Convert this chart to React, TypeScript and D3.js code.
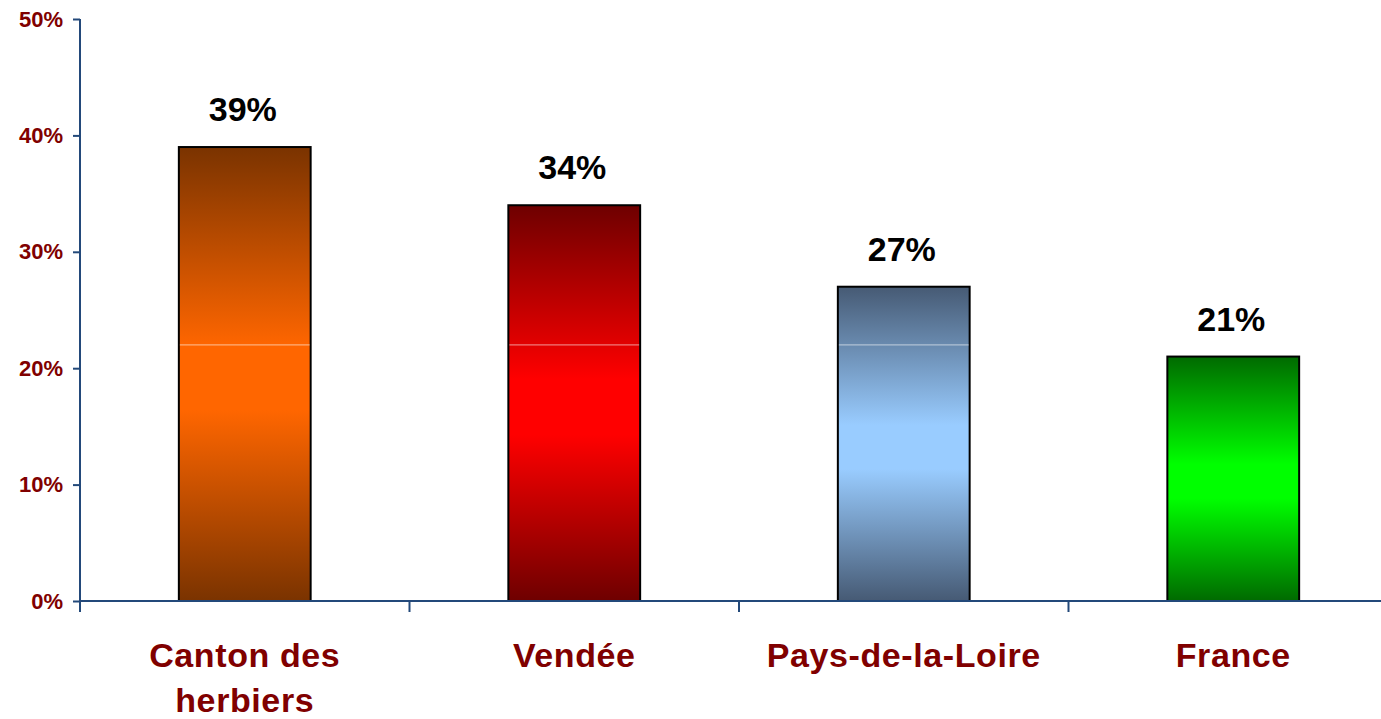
import { useEffect, useRef } from 'react'
import * as d3 from 'd3'

const categories = ['Canton des herbiers', 'Vendée', 'Pays-de-la-Loire', 'France']
const categoryLines = [['Canton des', 'herbiers'], ['Vendée'], ['Pays-de-la-Loire'], ['France']]
const values = [0.39, 0.34, 0.27, 0.21]
const yTicks = [0, 0.1, 0.2, 0.3, 0.4, 0.5]
// dark end / bright middle of each bar's gradient
const darkColors = ['#7a3300', '#6e0000', '#465a74', '#006a00']
const brightColors = ['#ff6600', '#ff0000', '#99ccff', '#00ff00']
// faint light streak that crosses every bar in the original
const streakValue = 0.22

const width = 1381
const height = 719
const margin = { top: 19, right: -17, bottom: 118, left: 80 }

export default function App() {
  const svgRef = useRef<SVGSVGElement>(null)

  useEffect(() => {
    if (!svgRef.current) return
    const svg = d3.select(svgRef.current)
    svg.selectAll('*').remove()

    const x = d3.scaleBand<string>()
      .domain(categories)
      .range([margin.left, width - margin.right])
      .paddingInner(0.6)
      .paddingOuter(0.3)

    const y = d3.scaleLinear()
      .domain([0, 0.5])
      .range([height - margin.bottom, margin.top])

    const axisColor = '#23497a'
    const labelColor = '#800000'
    const font = '"Liberation Sans", Arial, sans-serif'

    const defs = svg.append('defs')
    categories.forEach((c, i) => {
      const grad = defs.append('linearGradient')
        .attr('id', `grad${i}`)
        .attr('x1', 0).attr('y1', 0).attr('x2', 0).attr('y2', 1)
      const stops: [number, string][] = [
        [0, darkColors[i]],
        [0.44, brightColors[i]],
        [0.58, brightColors[i]],
        [1, darkColors[i]],
      ]
      stops.forEach(([o, col]) => {
        grad.append('stop').attr('offset', o).attr('stop-color', col)
      })
    })

    // bars
    const bars = svg.append('g')
    bars.selectAll('rect')
      .data(categories)
      .join('rect')
      .attr('x', d => x(d)!)
      .attr('y', (d, i) => y(values[i]))
      .attr('width', x.bandwidth())
      .attr('height', (d, i) => y(0) - y(values[i]))
      .attr('fill', (d, i) => `url(#grad${i})`)
      .attr('stroke', '#000')
      .attr('stroke-width', 2)

    bars.selectAll('line.streak')
      .data(categories)
      .join('line')
      .attr('class', 'streak')
      .attr('x1', d => x(d)! + 1)
      .attr('x2', d => x(d)! + x.bandwidth() - 1)
      .attr('y1', y(streakValue))
      .attr('y2', y(streakValue))
      .attr('stroke', '#ffffff')
      .attr('stroke-opacity', 0.6)
      .attr('stroke-width', 1)

    // value labels
    svg.append('g')
      .selectAll('text')
      .data(categories)
      .join('text')
      .attr('x', d => x(d)! + x.bandwidth() / 2 - 2)
      .attr('y', (d, i) => y(values[i]) - 26)
      .attr('text-anchor', 'middle')
      .attr('font-family', font)
      .attr('font-weight', 'bold')
      .attr('font-size', '34px')
      .attr('fill', '#000')
      .text((d, i) => `${Math.round(values[i] * 100)}%`)

    // y axis
    const yAxis = svg.append('g')
      .attr('transform', `translate(${margin.left},0)`)
      .call(d3.axisLeft(y).tickValues(yTicks).tickSize(7).tickSizeOuter(0)
        .tickFormat(d => `${Math.round(+d * 100)}%`))
    yAxis.select('.domain').remove()
    yAxis.selectAll('line').attr('stroke', axisColor).attr('stroke-width', 2)
    yAxis.selectAll('text')
      .attr('x', -17)
      .attr('font-family', font)
      .attr('font-weight', 'bold')
      .attr('font-size', '22px')
      .attr('fill', labelColor)

    const step = x.step()
    const x0 = x.range()[0]
    const y0 = y(0)

    // axis lines
    svg.append('line')
      .attr('x1', margin.left).attr('x2', margin.left)
      .attr('y1', y(0.5)).attr('y2', y0 + 11)
      .attr('stroke', axisColor).attr('stroke-width', 2)
    svg.append('line')
      .attr('x1', margin.left).attr('x2', x.range()[1])
      .attr('y1', y0).attr('y2', y0)
      .attr('stroke', axisColor).attr('stroke-width', 2)

    // category boundary ticks
    svg.append('g')
      .selectAll('line')
      .data(d3.range(1, categories.length))
      .join('line')
      .attr('x1', i => x0 + i * step)
      .attr('x2', i => x0 + i * step)
      .attr('y1', y0)
      .attr('y2', y0 + 11)
      .attr('stroke', axisColor)
      .attr('stroke-width', 2)

    // category labels
    const cat = svg.append('g')
      .selectAll('text')
      .data(categories)
      .join('text')
      .attr('x', d => x(d)! + x.bandwidth() / 2)
      .attr('y', y0 + 66)
      .attr('text-anchor', 'middle')
      .attr('font-family', font)
      .attr('font-weight', 'bold')
      .attr('font-size', '34px')
      .attr('letter-spacing', '0.6px')
      .attr('fill', labelColor)
    cat.selectAll('tspan')
      .data((d, i) => categoryLines[i].map(line => ({ line, cx: x(d)! + x.bandwidth() / 2 })))
      .join('tspan')
      .attr('x', d => d.cx)
      .attr('dy', (d, j) => (j === 0 ? 0 : 45))
      .text(d => d.line)
  }, [])

  return (
    <svg
      ref={svgRef}
      width={width}
      height={height}
      style={{ position: 'absolute', left: 0, top: 0, background: '#fff' }}
    />
  )
}
